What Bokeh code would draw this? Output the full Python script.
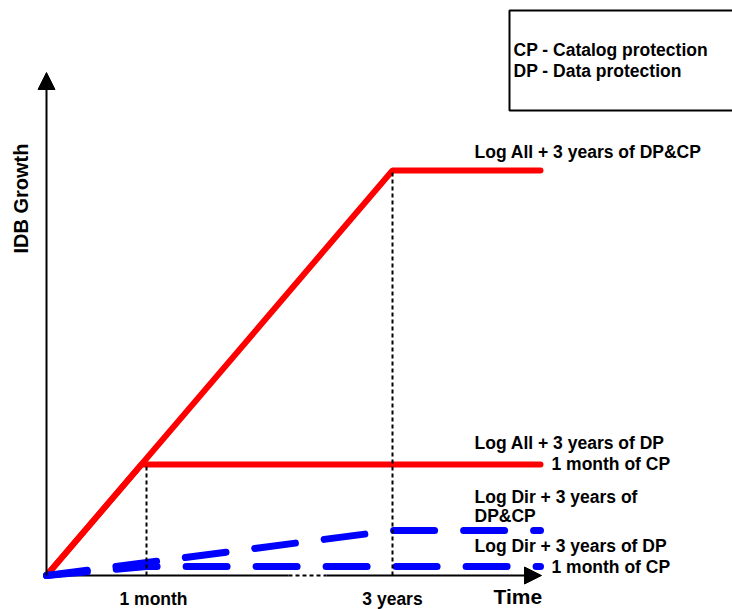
from bokeh.plotting import figure
from bokeh.models import Range1d, Arrow, NormalHead
from bokeh.embed import file_html
from bokeh.resources import INLINE
from bokeh.core.properties import value
import math

# ---- data (conceptual units: x = time, y = IDB growth) ----
t_month = 1.0
t_3years = 3.46
t_end = 4.94
tick_x = [t_month, t_3years]
tick_labels = ["1 month", "3 years"]

red_all_x = [0, t_3years, t_end]
red_all_y = [0, 4.05, 4.05]
red_dp_x = [0, 0.95, t_end]
red_dp_y = [0, 1.11, 1.11]
blue_all_x = [0, t_3years, t_end]
blue_all_y = [0, 0.45, 0.45]
blue_dp_x = [0, t_month, t_end]
blue_dp_y = [0, 0.09, 0.09]

label_texts = ["Log All + 3 years of DP&CP", "Log All + 3 years of DP", "1 month of CP",
               "Log Dir + 3 years of", "DP&CP", "Log Dir + 3 years of DP", "1 month of CP"]
label_x = [4.28, 4.28, 5.05, 4.28, 4.28, 4.28, 5.05]
label_y = [4.24, 1.33, 1.12, 0.79, 0.60, 0.30, 0.09]

legend_texts = ["CP - Catalog protection", "DP - Data protection"]
legend_x = [4.67, 4.67]
legend_y = [5.26, 5.05]

FONT = "Liberation Sans"
FS = "17.5px"

p = figure(width=732, height=609, output_backend="svg", toolbar_location=None,
           x_range=Range1d(-0.46, 6.86), y_range=Range1d(-0.34, 5.75),
           min_border=0)
p.axis.visible = False
p.grid.visible = False
p.outline_line_color = None
p.background_fill_color = "white"

# axes
p.add_layout(Arrow(end=NormalHead(size=17, fill_color="black", line_color="black"),
                   x_start=0, y_start=0, x_end=0, y_end=5.03,
                   line_color="black", line_width=2))
p.segment(x0=[0], y0=[0], x1=[2.42], y1=[0], line_color="black", line_width=2)
p.segment(x0=[2.42], y0=[0], x1=[2.80], y1=[0], line_color="black", line_width=2,
          line_dash="4 3")
p.add_layout(Arrow(end=NormalHead(size=17, fill_color="black", line_color="black"),
                   x_start=2.80, y_start=0, x_end=4.95, y_end=0,
                   line_color="black", line_width=2))

# red lines
p.line(red_all_x, red_all_y, line_color="#ff0000", line_width=6, line_cap="round")
p.line(red_dp_x, red_dp_y, line_color="#ff0000", line_width=6, line_cap="round")

# blue dashed lines
p.line(blue_all_x, blue_all_y, line_color="#0000ff", line_width=7, line_cap="round",
       line_dash="41 29")
p.line(blue_dp_x, blue_dp_y, line_color="#0000ff", line_width=7, line_cap="round",
       line_dash="41 29")

# dotted guides
p.segment(x0=tick_x, y0=[0, 0], x1=tick_x, y1=[red_dp_y[1], red_all_y[1]],
          line_color="black", line_width=2, line_dash="4 3")

# labels
p.text(x=label_x, y=label_y, text=label_texts, text_font=value(FONT),
       text_font_size=FS, text_font_style="bold", text_color="black",
       text_baseline="alphabetic", text_align="left")

# tick labels
p.text(x=[1.07, 3.46], y=[-0.23, -0.23], text=tick_labels, text_font=value(FONT),
       text_font_size=FS, text_font_style="bold", text_color="black",
       text_baseline="alphabetic", text_align="center")

# axis titles
p.text(x=[4.47], y=[-0.21], text=["Time"], text_font=value(FONT),
       text_font_size="21px", text_font_style="bold", text_color="black",
       text_baseline="alphabetic", text_align="left")
p.text(x=[-0.26], y=[3.77], text=["IDB Growth"], text_font=value(FONT),
       text_font_size="20px", text_font_style="bold", text_color="black",
       text_baseline="middle", text_align="center", angle=math.pi / 2)

# legend box
p.quad(left=[4.63], right=[7.2], top=[5.65], bottom=[4.65], fill_color=None,
       line_color="black", line_width=2)
p.text(x=legend_x, y=legend_y, text=legend_texts, text_font=value(FONT),
       text_font_size=FS, text_font_style="bold", text_color="black",
       text_baseline="alphabetic", text_align="left")

open("out.html", "w").write(file_html(p, INLINE))
